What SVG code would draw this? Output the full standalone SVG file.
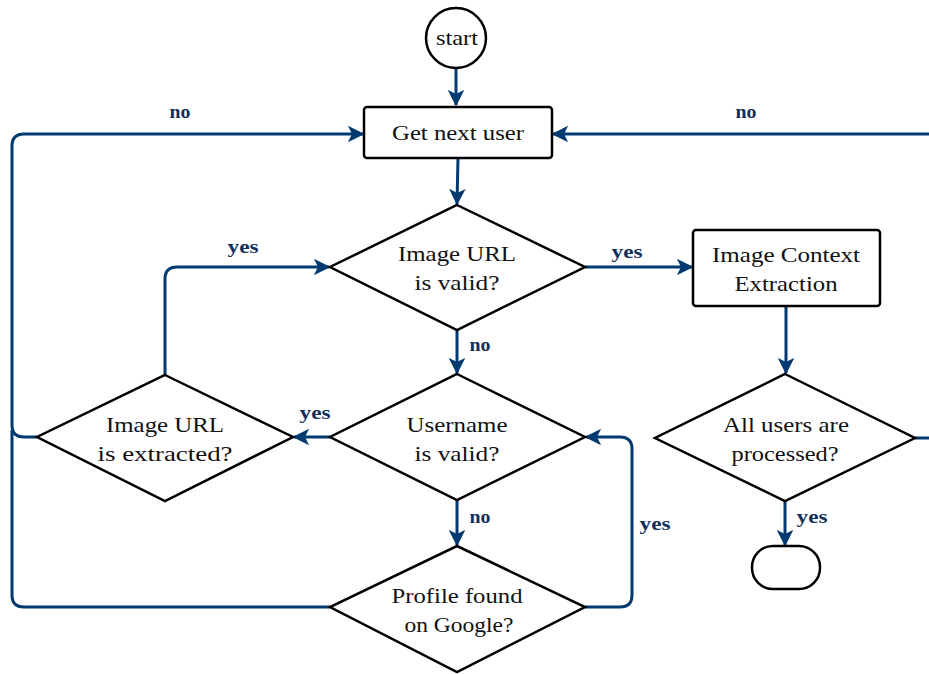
<svg xmlns="http://www.w3.org/2000/svg" width="929" height="674" viewBox="0 0 929 674">
<style>
.shape{fill:#fff;stroke:#000;stroke-width:2.5;stroke-linejoin:miter}
.t{font-family:'Liberation Serif','Noto Serif','Tinos','Nimbus Roman','FreeSerif','DejaVu Serif',serif;font-size:21px;fill:#111;text-anchor:middle;dominant-baseline:central}
.c{fill:none;stroke:#003a70;stroke-width:3;stroke-linejoin:round}
.l{font-family:'Liberation Serif','Noto Serif','Tinos','Nimbus Roman','FreeSerif','DejaVu Serif',serif;font-size:18px;font-weight:bold;fill:#132f57;text-anchor:middle;dominant-baseline:central}
</style>
<defs>
<marker id="a" viewBox="0 0 12 12" refX="11" refY="6" markerWidth="5.5" markerHeight="5.5" markerUnits="strokeWidth" orient="auto">
<path d="M0,0 L12,6 L0,12 L3,6 z" fill="#003a70"/>
</marker>
</defs>
<rect width="929" height="674" fill="#fff"/>
<g id="connectors">
<path class="c" d="M456,68 V105" marker-end="url(#a)"/>
<path class="c" d="M458,158 L457,204" marker-end="url(#a)"/>
<path class="c" d="M457,330 V373" marker-end="url(#a)"/>
<path class="c" d="M585,267 H692" marker-end="url(#a)"/>
<path class="c" d="M786,306 V373" marker-end="url(#a)"/>
<path class="c" d="M915,438 H945 V134 H553" marker-end="url(#a)"/>
<path class="c" d="M785,501 V545" marker-end="url(#a)"/>
<path class="c" d="M330,437 H294" marker-end="url(#a)"/>
<path class="c" d="M165,375 V279 Q165,267 177,267 H329" marker-end="url(#a)"/>
<path class="c" d="M37,437 H24 Q12,437 12,425 V146 Q12,134 24,134 H363" marker-end="url(#a)"/>
<path class="c" d="M330,607 H24 Q12,607 12,595 V430"/>
<path class="c" d="M457,500 V545" marker-end="url(#a)"/>
<path class="c" d="M585,607 H620 Q632,607 632,595 V449 Q632,437 620,437 H586" marker-end="url(#a)"/>
<text class="l" x="480" y="345" textLength="21" lengthAdjust="spacingAndGlyphs">no</text>
<text class="l" x="627" y="252" textLength="31" lengthAdjust="spacingAndGlyphs">yes</text>
<text class="l" x="746" y="112" textLength="21" lengthAdjust="spacingAndGlyphs">no</text>
<text class="l" x="812" y="517" textLength="31" lengthAdjust="spacingAndGlyphs">yes</text>
<text class="l" x="315" y="413" textLength="31" lengthAdjust="spacingAndGlyphs">yes</text>
<text class="l" x="243" y="247" textLength="31" lengthAdjust="spacingAndGlyphs">yes</text>
<text class="l" x="180" y="112" textLength="21" lengthAdjust="spacingAndGlyphs">no</text>
<text class="l" x="480" y="517" textLength="21" lengthAdjust="spacingAndGlyphs">no</text>
<text class="l" x="655" y="524" textLength="31" lengthAdjust="spacingAndGlyphs">yes</text>
</g>
<g id="start">
<circle class="shape" cx="456" cy="38" r="30"/>
<text class="t" x="457" y="38" textLength="42" lengthAdjust="spacingAndGlyphs">start</text>
</g>
<g id="get-next-user">
<rect class="shape" x="364" y="107" width="188" height="51" rx="3"/>
<text class="t" x="458" y="133" textLength="132" lengthAdjust="spacingAndGlyphs">Get next user</text>
</g>
<g id="image-url-valid">
<polygon class="shape" points="457,205 585,267 457,330 330,267"/>
<text class="t" x="457" y="254" textLength="118" lengthAdjust="spacingAndGlyphs">Image URL</text>
<text class="t" x="457" y="283" textLength="85" lengthAdjust="spacingAndGlyphs">is valid?</text>
</g>
<g id="image-context-extraction">
<rect class="shape" x="693" y="230" width="187" height="76" rx="3"/>
<text class="t" x="786" y="255" textLength="148" lengthAdjust="spacingAndGlyphs">Image Context</text>
<text class="t" x="786" y="284" textLength="103" lengthAdjust="spacingAndGlyphs">Extraction</text>
</g>
<g id="username-valid">
<polygon class="shape" points="457,374 585,437 457,500 330,437"/>
<text class="t" x="457" y="425" textLength="101" lengthAdjust="spacingAndGlyphs">Username</text>
<text class="t" x="457" y="454" textLength="85" lengthAdjust="spacingAndGlyphs">is valid?</text>
</g>
<g id="image-url-extracted">
<polygon class="shape" points="165,375 293,437 165,501 37,437"/>
<text class="t" x="165" y="425" textLength="118" lengthAdjust="spacingAndGlyphs">Image URL</text>
<text class="t" x="165" y="454" textLength="135" lengthAdjust="spacingAndGlyphs">is extracted?</text>
</g>
<g id="all-users-processed">
<polygon class="shape" points="785,374 915,438 785,501 655,438"/>
<text class="t" x="786" y="425" textLength="126" lengthAdjust="spacingAndGlyphs">All users are</text>
<text class="t" x="785" y="454" textLength="107" lengthAdjust="spacingAndGlyphs">processed?</text>
</g>
<g id="profile-found">
<polygon class="shape" points="457,546 585,607 457,672 330,607"/>
<text class="t" x="457" y="596" textLength="131" lengthAdjust="spacingAndGlyphs">Profile found</text>
<text class="t" x="459" y="625" textLength="109" lengthAdjust="spacingAndGlyphs">on Google?</text>
</g>
<g id="end">
<rect class="shape" x="752" y="546" width="68" height="43" rx="21"/>
</g>
</svg>
